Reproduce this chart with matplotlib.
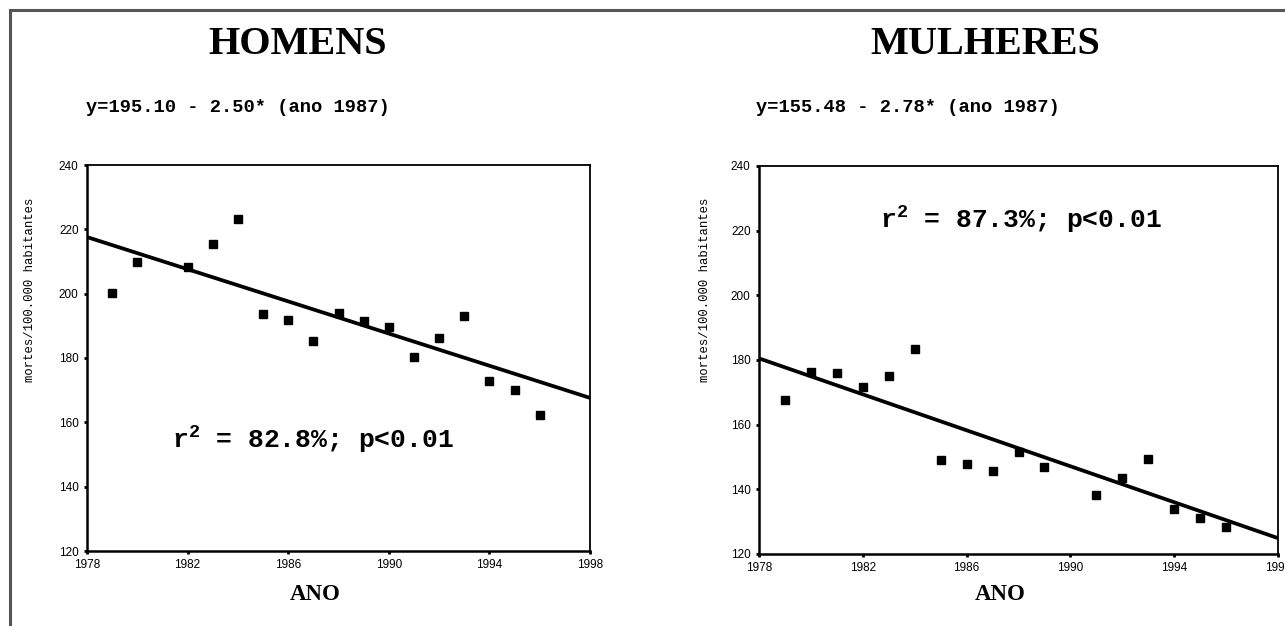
import numpy as np
import matplotlib
matplotlib.use("Agg")
import matplotlib.pyplot as plt
from matplotlib.lines import Line2D

plt.rcParams["mathtext.fontset"] = "custom"
plt.rcParams["mathtext.rm"] = "Liberation Mono:bold"
plt.rcParams["mathtext.it"] = "Liberation Mono:bold"
plt.rcParams["mathtext.bf"] = "Liberation Mono:bold"

W, H = 1285, 626

# data
anos_h = [1979, 1980, 1982, 1983, 1984, 1985, 1986, 1987, 1988, 1989,
          1990, 1991, 1992, 1993, 1994, 1995, 1996]
taxa_h = [200.3, 209.7, 208.4, 215.3, 223.2, 193.8, 191.9, 185.3, 194.1, 191.6,
          189.7, 180.3, 186.1, 193.2, 172.8, 170.1, 162.4]

anos_m = [1979, 1980, 1981, 1982, 1983, 1984, 1985, 1986, 1987, 1988,
          1989, 1991, 1992, 1993, 1994, 1995, 1996]
taxa_m = [167.7, 176.2, 176.1, 171.6, 175.1, 183.5, 149.1, 147.8, 145.8, 151.7,
          146.8, 138.4, 143.6, 149.5, 133.8, 131.2, 128.4]

# regression y = a + b*(ano - 1987)
coef_h = (195.10, -2.50)
coef_m = (155.48, -2.78)

x_ticks = [1978, 1982, 1986, 1990, 1994, 1998]
y_ticks = [120, 140, 160, 180, 200, 220, 240]

titulos = ["HOMENS", "MULHERES"]
equacoes = ["y=195.10 - 2.50* (ano 1987)", "y=155.48 - 2.78* (ano 1987)"]
r2_textos = ["r$^2$ = 82.8%; p<0.01", "r$^2$ = 87.3%; p<0.01"]
ylabel = "mortes/100.000 habitantes"

fig = plt.figure(figsize=(W / 100, H / 100), dpi=100)


def box(x0, y0, x1, y1):
    # pixel box (top-left origin) -> figure fraction
    return [x0 / W, 1 - y1 / H, (x1 - x0) / W, (y1 - y0) / H]


# outer frame (left and top only)
fig.add_artist(Line2D([9.5 / W, 9.5 / W], [0, 1 - 10 / H], color="#555555", lw=2.2))
fig.add_artist(Line2D([9.5 / W, 1], [1 - 10 / H, 1 - 10 / H], color="#555555", lw=2.2))

paineis = [
    dict(anos=anos_h, taxa=taxa_h, coef=coef_h, rect=box(87, 165, 590, 551),
         tit_x=298, eq_x=238, yl_x=30, ano_x=315, r2=(1987.0, 154.5)),
    dict(anos=anos_m, taxa=taxa_m, coef=coef_m, rect=box(759, 166, 1278, 554),
         tit_x=985, eq_x=908, yl_x=705, ano_x=1000, r2=(1988.1, 223.5)),
]

for i, p in enumerate(paineis):
    ax = fig.add_axes(p["rect"])
    ax.set_xlim(1978, 1998)
    ax.set_ylim(120, 240)
    xs = np.array([1978, 1998])
    a, b = p["coef"]
    ax.plot(xs, a + b * (xs - 1987), color="black", lw=2.7, solid_capstyle="butt")
    ax.plot(p["anos"], p["taxa"], "s", color="black", ms=5.8, zorder=3)
    ax.set_xticks(x_ticks)
    ax.set_yticks(y_ticks)
    ax.tick_params(direction="out", length=2, width=2, labelsize=8.5, pad=4)
    for lab in ax.get_xticklabels() + ax.get_yticklabels():
        lab.set_fontfamily("Liberation Sans")
    for s in ax.spines.values():
        s.set_linewidth(1.3)
    ax.spines["left"].set_linewidth(1.8)
    ax.spines["bottom"].set_linewidth(1.8)
    ax.text(p["r2"][0], p["r2"][1], r2_textos[i], ha="center", va="center",
            family="Liberation Mono", weight="bold", fontsize=19)

    fig.text(p["tit_x"] / W, 1 - 45 / H, titulos[i], ha="center", va="center",
             family="Liberation Serif", weight="bold", fontsize=29)
    fig.text(p["eq_x"] / W, 1 - 108 / H, equacoes[i], ha="center", va="center",
             family="Liberation Mono", weight="bold", fontsize=13.5)
    fig.text(p["yl_x"] / W, 1 - 290 / H, ylabel, ha="center", va="center",
             rotation=90, family="Liberation Mono", fontsize=8.8)
    fig.text(p["ano_x"] / W, 1 - 594 / H, "ANO", ha="center", va="center",
             family="Liberation Serif", weight="bold", fontsize=16.5)

fig.savefig("out.png", dpi=100)
